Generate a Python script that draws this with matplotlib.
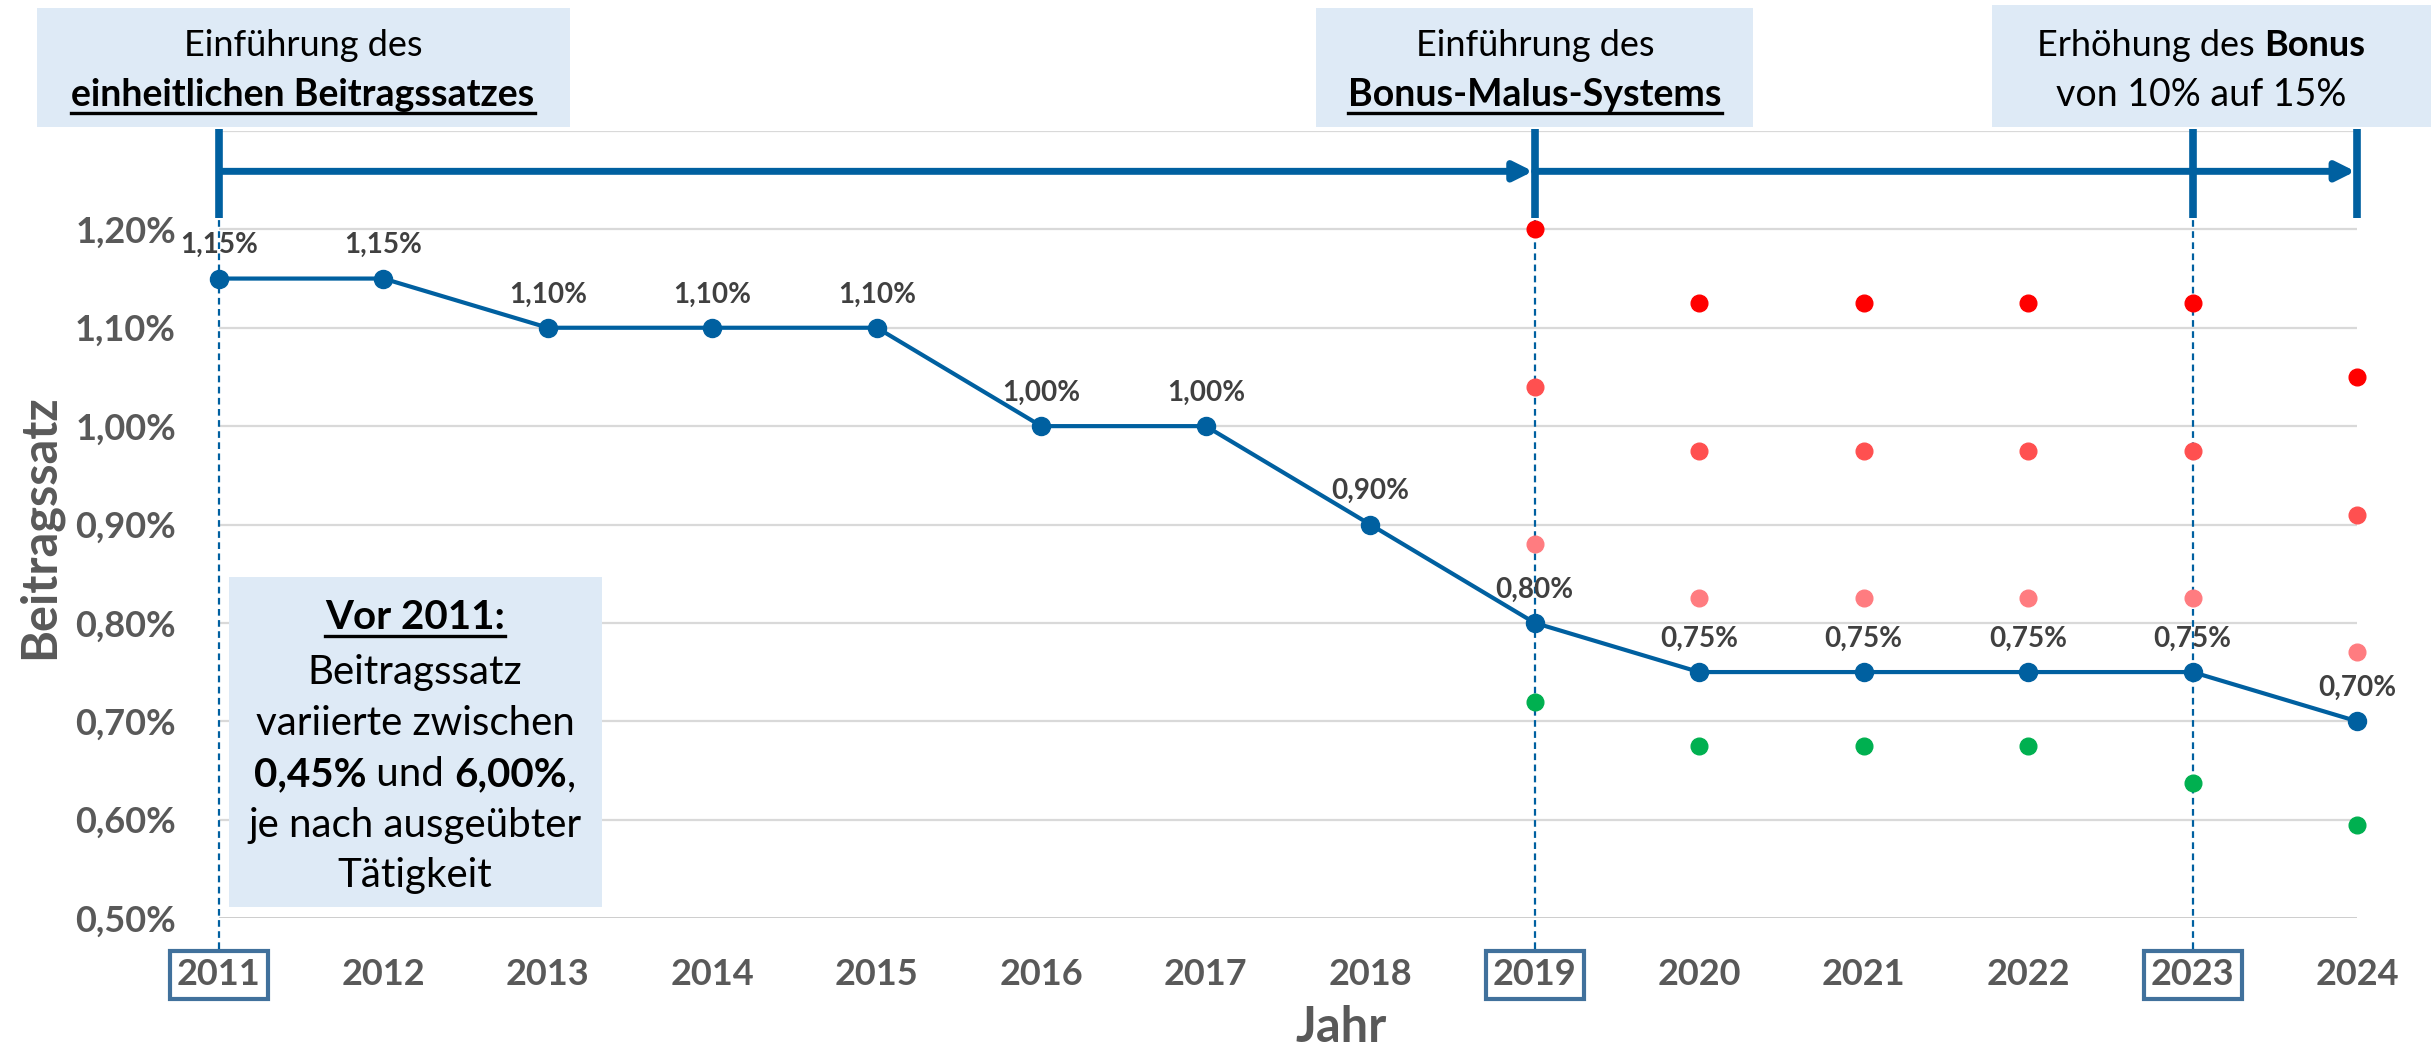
import matplotlib
matplotlib.use("Agg")
import matplotlib.pyplot as plt
from matplotlib.patches import Rectangle

# --- data ---------------------------------------------------------------
years = list(range(2011, 2025))
rate = [1.15, 1.15, 1.10, 1.10, 1.10, 1.00, 1.00, 0.90, 0.80, 0.75, 0.75, 0.75, 0.75, 0.70]

bm_years = [2019, 2020, 2021, 2022, 2023, 2024]
malus_high = [1.20, 1.125, 1.125, 1.125, 1.125, 1.05]
malus_mid = [1.04, 0.975, 0.975, 0.975, 0.975, 0.91]
malus_low = [0.88, 0.825, 0.825, 0.825, 0.825, 0.77]
bonus = [0.72, 0.675, 0.675, 0.675, 0.6375, 0.595]

yticks = [0.5, 0.6, 0.7, 0.8, 0.9, 1.0, 1.1, 1.2]
boxed_years = ["2011", "2019", "2023"]
event_years = [2011, 2019, 2023]

BLUE = "#0060A0"
GRAY = "#595959"
LABEL = "#404040"
BOXFILL = "#DEEAF6"
W, H = 2431, 1053

plt.rcParams["font.family"] = ["Lato", "DejaVu Sans"]

fig = plt.figure(figsize=(W / 100, H / 100), dpi=100)
ax = fig.add_axes([219 / W, 135 / H, (2357 - 219) / W, (922 - 135) / H])
ax.set_xlim(2011, 2024)
ax.set_ylim(0.5, 1.3)

for s in ax.spines.values():
    s.set_visible(False)
for g in [0.6, 0.7, 0.8, 0.9, 1.0, 1.1, 1.2, 1.3]:
    ax.axhline(g, color="#D9D9D9", lw=1.6, zorder=0)
ax.axhline(0.5, color="#BFBFBF", lw=1.8, zorder=0)

# main series
ax.plot(years, rate, color=BLUE, lw=3, marker="o", ms=13, zorder=4, clip_on=False)
for x, v in zip(years, rate):
    ax.annotate(f"{v:.2f}%".replace(".", ","), (x, v), xytext=(0, 24),
                textcoords="offset points", ha="center", va="center",
                fontsize=20, fontweight="bold", color=LABEL, zorder=5)

# bonus-malus points
for vals, col in [(malus_high, "#FF0000"), (malus_mid, "#FF5050"),
                  (malus_low, "#FF7C80"), (bonus, "#00B050")]:
    ax.plot(bm_years, vals, ls="none", marker="o", ms=12, color=col, zorder=3, clip_on=False)

# dashed event lines
for x in event_years:
    ax.plot([x, x], [0.468, 1.212], ls=(0, (3, 2)), lw=1.6, color=BLUE, zorder=2, clip_on=False)

# timeline
arrow_y = 1.259
for x in [2011, 2019, 2023, 2024]:
    ax.plot([x, x], [1.212, 1.302], lw=5.5, color=BLUE, solid_capstyle="butt", clip_on=False)
ax.annotate("", xy=(2018.99, arrow_y), xytext=(2011.02, arrow_y), annotation_clip=False,
            arrowprops=dict(arrowstyle="-|>", lw=5, color=BLUE, mutation_scale=28,
                            shrinkA=0, shrinkB=0))
ax.annotate("", xy=(2023.99, arrow_y), xytext=(2019.0, arrow_y), annotation_clip=False,
            arrowprops=dict(arrowstyle="-|>", lw=5, color=BLUE, mutation_scale=28,
                            shrinkA=0, shrinkB=0))

# axes labels & ticks
ax.set_xticks(years)
ax.set_xticklabels([str(y) for y in years])
ax.set_yticks(yticks)
ax.set_yticklabels([f"{v:.2f}%".replace(".", ",") for v in yticks])
ax.tick_params(axis="both", length=0, labelsize=26, labelcolor=GRAY)
ax.tick_params(axis="x", pad=29)
ax.tick_params(axis="y", pad=31)
for lbl in ax.get_xticklabels() + ax.get_yticklabels():
    lbl.set_fontweight("bold")
for lbl in ax.get_xticklabels():
    if lbl.get_text() in boxed_years:
        lbl.set_bbox(dict(boxstyle="square,pad=0.2", fc="white", ec="#41719C", lw=3))

fig.text(39 / W, 1 - 527 / H, "Beitragssatz", rotation=90, ha="center", va="center",
         fontsize=35, fontweight="bold", color=GRAY)
fig.text(1341 / W, 1 - 1028 / H, "Jahr", ha="center", va="center",
         fontsize=35, fontweight="bold", color=GRAY)


# --- annotation boxes ---------------------------------------------------
def box(x0, y0, x1, y1):
    fig.add_artist(Rectangle((x0 / W, 1 - y1 / H), (x1 - x0) / W, (y1 - y0) / H,
                             transform=fig.transFigure, fc=BOXFILL, ec="none", zorder=6))


renderer = fig.canvas.get_renderer()


def rich_line(cx, cy, parts, size=26):
    items = []
    for txt, bold, under in parts:
        t = fig.text(0, 0, txt, fontsize=size, fontweight="bold" if bold else "normal",
                     color="black", ha="left", va="baseline", zorder=7)
        items.append((t, under, t.get_window_extent(renderer).width))
    total = sum(w for _, _, w in items)
    x = cx - total / 2
    base = cy + size * 0.35 * 100 / 72
    for t, under, w in items:
        t.set_position((x / W, 1 - base / H))
        if under:
            fig.add_artist(plt.Line2D([x / W, (x + w) / W], [1 - (base + 7) / H] * 2,
                                      transform=fig.transFigure, color="black", lw=2.4, zorder=7))
        x += w


box(37, 8, 570, 127)
rich_line(303, 43, [("Einführung des", False, False)])
rich_line(303, 93, [("einheitlichen Beitragssatzes", True, True)], size=27)

box(1316, 8, 1753, 127)
rich_line(1535, 43, [("Einführung des", False, False)])
rich_line(1535, 93, [("Bonus-Malus-Systems", True, True)], size=27)

box(1992, 5, 2431, 127)
rich_line(2201, 43, [("Erhöhung des ", False, False), ("Bonus", True, False)])
rich_line(2201, 93, [("von 10% auf 15%", False, False)], size=27)

box(229, 577, 602, 907)
LS = 29
rich_line(415, 615, [("Vor 2011:", True, True)], size=LS)
rich_line(415, 670, [("Beitragssatz", False, False)], size=LS)
rich_line(415, 721, [("variierte zwischen", False, False)], size=LS)
rich_line(415, 772, [("0,45%", True, False), (" und ", False, False), ("6,00%", True, False),
                     (",", False, False)], size=LS)
rich_line(415, 823, [("je nach ausgeübter", False, False)], size=LS)
rich_line(415, 873, [("Tätigkeit", False, False)], size=LS)

fig.savefig("out.png", dpi=100)
